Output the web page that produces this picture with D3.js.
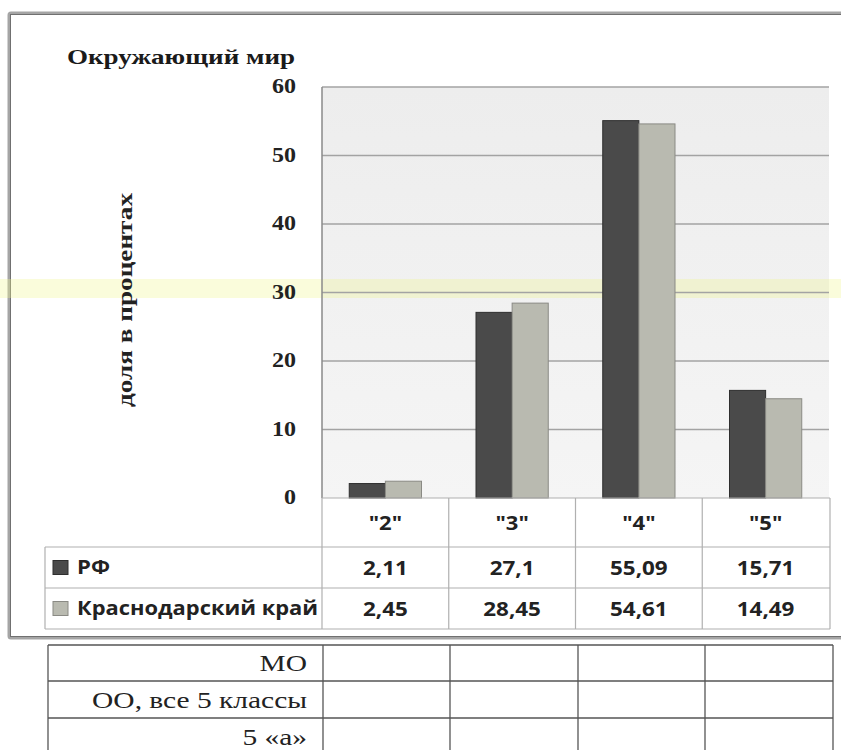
<!DOCTYPE html>
<html><head><meta charset="utf-8">
<script src="https://cdn.jsdelivr.net/npm/d3@7"></script>
<style>body{margin:0;background:#fff}svg{display:block}</style>
</head><body>
<script>
const title = "Окружающий мир";
const yLabel = "доля в процентах";
const categories = ["\"2\"", "\"3\"", "\"4\"", "\"5\""];
const seriesNames = ["РФ", "Краснодарский край"];
const rfValues = [2.11, 27.1, 55.09, 15.71];
const krValues = [2.45, 28.45, 54.61, 14.49];
const rfLabels = ["2,11", "27,1", "55,09", "15,71"];
const krLabels = ["2,45", "28,45", "54,61", "14,49"];
const yTicks = [0, 10, 20, 30, 40, 50, 60];
const extraRows = ["МО", "ОО, все 5 классы", "5 «а»"];

const W = 841, H = 750;
const svg = d3.select("body").append("svg").attr("width", W).attr("height", H);
const serif = "'Liberation Serif','Times New Roman',serif";
const sans = "'Open Sans','Noto Sans',sans-serif";

// horizontally stretch a text selection (the scan is wider than tall)
function stretch(sel, k) {
  sel.each(function() {
    const len = this.getComputedTextLength();
    d3.select(this).attr("textLength", len * k).attr("lengthAdjust", "spacingAndGlyphs");
  });
  return sel;
}

const plot = {l: 322, r: 829, t: 87, b: 498};
const x0 = d3.scaleBand().domain(categories).range([plot.l, plot.r]).paddingInner(0.43).paddingOuter(0.215);
const x1 = d3.scaleBand().domain(seriesNames).range([0, x0.bandwidth()]);
const y = d3.scaleLinear().domain([0, 60]).range([plot.b, plot.t]);
const colors = {"РФ": "#4a4a4a", "Краснодарский край": "#b9bab0"};
const strokes = {"РФ": "#2e2e2e", "Краснодарский край": "#8a8a84"};
const cols = x0.domain().map(c => x0(c) - x0.step()*x0.paddingInner()/2);

// frame
svg.append("rect").attr("x", 9).attr("y", 13).attr("width", 850).attr("height", 625)
  .attr("fill", "#fff").attr("stroke", "#a5a5a5").attr("stroke-width", 3).attr("rx", 2);
svg.append("rect").attr("x", 10.5).attr("y", 14.5).attr("width", 850).attr("height", 622)
  .attr("fill", "none").attr("stroke", "#707070").attr("stroke-width", 1);

// plot background
const bg = svg.append("defs").append("linearGradient").attr("id", "bg").attr("x1", 0).attr("x2", 0).attr("y1", 0).attr("y2", 1);
bg.append("stop").attr("offset", 0).attr("stop-color", "#ededed");
bg.append("stop").attr("offset", 1).attr("stop-color", "#f5f5f5");
svg.append("rect").attr("x", plot.l).attr("y", plot.t).attr("width", plot.r - plot.l).attr("height", plot.b - plot.t)
  .attr("fill", "url(#bg)");

// yellow highlighter band (scan artifact), behind the bars
svg.append("rect").attr("x", 0).attr("y", 279).attr("width", W).attr("height", 19)
  .attr("fill", "#eef590").attr("opacity", 0.32);

// gridlines
svg.append("g").selectAll("line").data(yTicks.filter(d => d > 0)).join("line")
  .attr("x1", plot.l).attr("x2", plot.r).attr("y1", d => y(d)).attr("y2", d => y(d))
  .attr("stroke", "#a3a3a3").attr("stroke-width", 1.5);
svg.append("line").attr("x1", plot.l).attr("x2", plot.l).attr("y1", plot.t).attr("y2", plot.b)
  .attr("stroke", "#8a8a8a").attr("stroke-width", 1.5);

// y tick labels
stretch(svg.append("g").selectAll("text").data(yTicks).join("text")
  .attr("x", 296).attr("y", d => y(d)).attr("dy", "0.32em").attr("text-anchor", "end")
  .attr("font-family", serif).attr("font-weight", "bold").attr("font-size", 20).attr("fill", "#222")
  .text(d => d), 1.2);

// title
svg.append("text").attr("x", 67).attr("y", 64).attr("font-family", serif).attr("font-weight", "bold")
  .attr("font-size", 22).attr("fill", "#1a1a1a").attr("textLength", 228).attr("lengthAdjust", "spacingAndGlyphs").text(title);

// y label
svg.append("text").attr("transform", "translate(132,300) rotate(-90)").attr("text-anchor", "middle")
  .attr("font-family", serif).attr("font-weight", "bold").attr("font-size", 21).attr("fill", "#222")
  .attr("textLength", 214).attr("lengthAdjust", "spacingAndGlyphs").text(yLabel);

// bars
const seriesData = [rfValues, krValues];
const g = svg.append("g").selectAll("g").data(categories).join("g")
  .attr("transform", d => `translate(${x0(d)},0)`);
g.selectAll("rect").data((c, i) => seriesNames.map((s, k) => ({s, v: seriesData[k][i]}))).join("rect")
  .attr("x", d => x1(d.s)).attr("y", d => y(d.v)).attr("width", x1.bandwidth()).attr("height", d => y(0) - y(d.v))
  .attr("fill", d => colors[d.s]).attr("stroke", d => strokes[d.s]).attr("stroke-width", 1);

// data table
const tbl = svg.append("g").attr("stroke", "#b0b0b0").attr("stroke-width", 1.2);
const rowsY = [547, 588, 629];
rowsY.forEach(ry => tbl.append("line").attr("x1", 45).attr("x2", 830).attr("y1", ry).attr("y2", ry));
tbl.append("line").attr("x1", plot.l).attr("x2", 830).attr("y1", plot.b).attr("y2", plot.b);
cols.concat([830]).forEach(cx => tbl.append("line").attr("x1", cx).attr("x2", cx).attr("y1", plot.b).attr("y2", 629));
tbl.append("line").attr("x1", 45).attr("x2", 45).attr("y1", 547).attr("y2", 629);

stretch(svg.append("g").selectAll("text").data(categories).join("text")
  .attr("x", d => x0(d) + x0.bandwidth()/2).attr("y", 523).attr("dy", "0.35em").attr("text-anchor", "middle")
  .attr("font-family", sans).attr("font-weight", "bold").attr("font-size", 20).attr("fill", "#222").text(d => d), 1.1);

[rfLabels, krLabels].forEach((labs, k) => {
  const cy = (rowsY[k] + rowsY[k+1])/2;
  stretch(svg.append("g").selectAll("text").data(labs).join("text")
    .attr("x", (d, i) => x0(categories[i]) + x0.bandwidth()/2).attr("y", cy)
    .attr("dy", "0.35em").attr("text-anchor", "middle")
    .attr("font-family", sans).attr("font-weight", "bold").attr("font-size", 20).attr("fill", "#222").text(d => d), 1.12);
  svg.append("rect").attr("x", 53).attr("y", cy - 7).attr("width", 15).attr("height", 14)
    .attr("fill", colors[seriesNames[k]]).attr("stroke", strokes[seriesNames[k]]);
  svg.append("text").attr("x", 77).attr("y", cy).attr("dy", "0.35em")
    .attr("font-family", sans).attr("font-weight", "bold").attr("font-size", 19).attr("fill", "#222")
    .attr("textLength", seriesNames[k] === "РФ" ? 33 : 241).attr("lengthAdjust", "spacingAndGlyphs")
    .text(seriesNames[k]);
});

// bottom table
const bt = svg.append("g").attr("stroke", "#555").attr("stroke-width", 1.3);
const bRows = [645, 681, 718, 756];
bRows.forEach(ry => bt.append("line").attr("x1", 48).attr("x2", 833).attr("y1", ry).attr("y2", ry));
[48, 323, 450, 578, 705, 833].forEach(cx => bt.append("line").attr("x1", cx).attr("x2", cx).attr("y1", 645).attr("y2", 756));
stretch(svg.append("g").selectAll("text").data(extraRows).join("text")
  .attr("x", 307).attr("y", (d, i) => (bRows[i] + bRows[i+1])/2).attr("dy", "0.35em").attr("text-anchor", "end")
  .attr("font-family", serif).attr("font-size", 23).attr("fill", "#222").text(d => d), 1.28);
</script>
</body></html>
